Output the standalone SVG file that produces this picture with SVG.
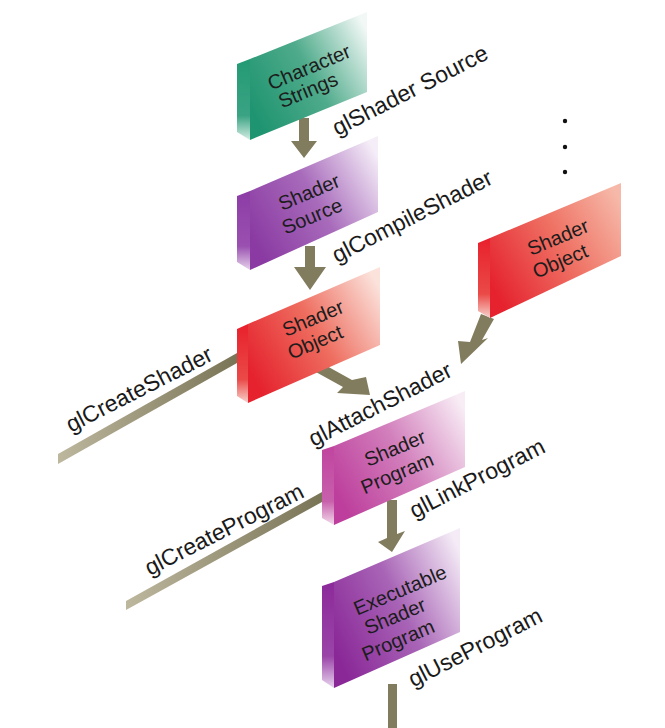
<svg xmlns="http://www.w3.org/2000/svg" width="665" height="728" viewBox="0 0 665 728">
  <defs>
    <!-- front-face fills: saturated at the lower left, fading toward the upper right -->
    <linearGradient id="gGreen" x1="0" y1="0.75" x2="1" y2="0.15">
      <stop offset="0" stop-color="#1f9470"/>
      <stop offset="0.5" stop-color="#4fab8b"/>
      <stop offset="1" stop-color="#f1f8f5"/>
    </linearGradient>
    <linearGradient id="gPurple" x1="0" y1="0.75" x2="1" y2="0.15">
      <stop offset="0" stop-color="#8a3aa2"/>
      <stop offset="0.5" stop-color="#a86bbb"/>
      <stop offset="1" stop-color="#f5eef8"/>
    </linearGradient>
    <linearGradient id="gRed" x1="0" y1="0.75" x2="1" y2="0.15">
      <stop offset="0" stop-color="#e5222e"/>
      <stop offset="0.5" stop-color="#ee6d5f"/>
      <stop offset="1" stop-color="#fbe3dc"/>
    </linearGradient>
    <linearGradient id="gRedR" x1="0" y1="0.75" x2="1" y2="0.15">
      <stop offset="0" stop-color="#e5222e"/>
      <stop offset="0.55" stop-color="#ef7466"/>
      <stop offset="1" stop-color="#f6b8a8"/>
    </linearGradient>
    <linearGradient id="gMagenta" x1="0" y1="0.75" x2="1" y2="0.15">
      <stop offset="0" stop-color="#bd3e9c"/>
      <stop offset="0.5" stop-color="#d27fbc"/>
      <stop offset="1" stop-color="#f8ecf5"/>
    </linearGradient>
    <linearGradient id="gViolet" x1="0" y1="0.75" x2="1" y2="0.15">
      <stop offset="0" stop-color="#8a2898"/>
      <stop offset="0.5" stop-color="#a864b6"/>
      <stop offset="1" stop-color="#f4ebf6"/>
    </linearGradient>
    <!-- narrow left side faces -->
    <linearGradient id="sGreen" x1="0" y1="0" x2="0" y2="1">
      <stop offset="0" stop-color="#239a74"/>
      <stop offset="0.7" stop-color="#3aa383"/>
      <stop offset="1" stop-color="#d5eee4"/>
    </linearGradient>
    <linearGradient id="sPurple" x1="0" y1="0" x2="0" y2="1">
      <stop offset="0" stop-color="#8d3ca6"/>
      <stop offset="0.7" stop-color="#9a50b0"/>
      <stop offset="1" stop-color="#e6d3ec"/>
    </linearGradient>
    <linearGradient id="sRed" x1="0" y1="0" x2="0" y2="1">
      <stop offset="0" stop-color="#e8202c"/>
      <stop offset="0.7" stop-color="#ea4a48"/>
      <stop offset="1" stop-color="#f8d2cc"/>
    </linearGradient>
    <linearGradient id="sMagenta" x1="0" y1="0" x2="0" y2="1">
      <stop offset="0" stop-color="#c0449f"/>
      <stop offset="0.7" stop-color="#c860ac"/>
      <stop offset="1" stop-color="#f2dbeb"/>
    </linearGradient>
    <linearGradient id="sViolet" x1="0" y1="0" x2="0" y2="1">
      <stop offset="0" stop-color="#8c2a9a"/>
      <stop offset="0.7" stop-color="#9a44a8"/>
      <stop offset="1" stop-color="#e8d4ee"/>
    </linearGradient>
    <!-- long call lines: light at the far end, darker at the node -->
    <linearGradient id="gLine" x1="0" y1="0" x2="1" y2="0">
      <stop offset="0" stop-color="#bdb79e"/>
      <stop offset="1" stop-color="#7a7457"/>
    </linearGradient>
    <style>
      .conn { fill: #827c5e; }
      .line { fill: url(#gLine); }
      .lbl { font-family: "Liberation Sans", Arial, sans-serif; font-size: 23px; fill: #1a1a1a; text-anchor: middle; }
      .box { font-family: "Liberation Sans", Arial, sans-serif; font-size: 20px; fill: #1c1c1c; text-anchor: middle; }
      .dot { fill: #111; }
    </style>
  </defs>

  <rect width="665" height="728" fill="#ffffff"/>

  <!-- connectors -->
  <g id="connectors">
    <!-- glCreateShader line -->
    <polygon class="line" points="58,454 237,353 237,363 58,464"/>
    <!-- glCreateProgram line -->
    <polygon class="line" points="126,601 322,492 322,502 126,610"/>
    <!-- Character Strings -> Shader Source -->
    <path class="conn" d="M299,118 H309 V141 H317 L304,158 L291,141 H299 Z"/>
    <!-- Shader Source -> Shader Object -->
    <path class="conn" d="M305,246 H315 V267 H326 L310,290 L294,267 H305 Z"/>
    <!-- Shader Object -> glAttachShader -->
    <path class="conn" d="M325,365 L352,380 L366,377 L370,395 L337,393 L343,387 L314,371 Z"/>
    <!-- second Shader Object -> glAttachShader -->
    <path class="conn" d="M481,314 L494,319 L482,340 L488,338 L461,364 L458,341 L470,342 Z"/>
    <!-- Shader Program -> Executable Shader Program -->
    <path class="conn" d="M387,500 H397 V534 L405,531 L392,552 L378,542 L387,538 Z"/>
    <!-- glUseProgram stem -->
    <rect class="conn" x="388" y="684" width="9" height="44"/>
  </g>

  <!-- nodes -->
  <g id="character-strings">
    <polygon fill="url(#sGreen)" points="237,64 250,59 250,140 237,132"/>
    <polygon fill="url(#gGreen)" points="250,59 367,12 367,92 250,140"/>
    <text class="box" transform="translate(309,67) rotate(-23)" dy="0.35em">Character</text>
    <text class="box" transform="translate(308,90) rotate(-23)" dy="0.35em">Strings</text>
  </g>

  <g id="shader-source">
    <polygon fill="url(#sPurple)" points="237,196 250,191 250,270 237,262"/>
    <polygon fill="url(#gPurple)" points="250,191 378,136 378,212 250,270"/>
    <text class="box" transform="translate(309,192) rotate(-23)" dy="0.35em">Shader</text>
    <text class="box" transform="translate(312,216) rotate(-23)" dy="0.35em">Source</text>
  </g>

  <g id="shader-object">
    <polygon fill="url(#sRed)" points="237,329 248,324 248,403 237,396"/>
    <polygon fill="url(#gRed)" points="248,324 380,267 380,345 248,403"/>
    <text class="box" transform="translate(313,318) rotate(-23)" dy="0.35em">Shader</text>
    <text class="box" transform="translate(315,342) rotate(-23)" dy="0.35em">Object</text>
  </g>

  <g id="shader-object-2">
    <polygon fill="url(#sRed)" points="478,243 490,238 490,318 478,311"/>
    <polygon fill="url(#gRedR)" points="490,238 621,183 621,256 490,318"/>
    <text class="box" transform="translate(558,237) rotate(-23)" dy="0.35em">Shader</text>
    <text class="box" transform="translate(560,261) rotate(-23)" dy="0.35em">Object</text>
  </g>

  <g id="shader-program">
    <polygon fill="url(#sMagenta)" points="322,450 334,446 334,525 322,518"/>
    <polygon fill="url(#gMagenta)" points="334,446 465,391 465,467 334,525"/>
    <text class="box" transform="translate(395,448) rotate(-23)" dy="0.35em">Shader</text>
    <text class="box" transform="translate(397,473) rotate(-23)" dy="0.35em">Program</text>
  </g>

  <g id="executable-shader-program">
    <polygon fill="url(#sViolet)" points="322,586 334,582 334,688 322,680"/>
    <polygon fill="url(#gViolet)" points="334,582 460,528 460,632 334,688"/>
    <text class="box" transform="translate(400,590) rotate(-23)" dy="0.35em">Executable</text>
    <text class="box" transform="translate(395,616) rotate(-23)" dy="0.35em">Shader</text>
    <text class="box" transform="translate(398,640) rotate(-23)" dy="0.35em">Program</text>
  </g>

  <!-- ellipsis above the second shader object -->
  <g id="more">
    <circle class="dot" cx="565" cy="121" r="2.2"/>
    <circle class="dot" cx="565" cy="147" r="2.2"/>
    <circle class="dot" cx="565" cy="172" r="2.2"/>
  </g>

  <!-- call labels -->
  <g id="labels">
    <text class="lbl" transform="translate(410,90) rotate(-27)" dy="0.35em">glShader Source</text>
    <text class="lbl" transform="translate(412,216) rotate(-27)" dy="0.35em">glCompileShader</text>
    <text class="lbl" transform="translate(139,389) rotate(-27)" dy="0.35em">glCreateShader</text>
    <text class="lbl" transform="translate(380,404) rotate(-27)" dy="0.35em">glAttachShader</text>
    <text class="lbl" transform="translate(477,478) rotate(-27)" dy="0.35em">glLinkProgram</text>
    <text class="lbl" transform="translate(224,529) rotate(-27)" dy="0.35em">glCreateProgram</text>
    <text class="lbl" transform="translate(475,647) rotate(-27)" dy="0.35em">glUseProgram</text>
  </g>
</svg>
